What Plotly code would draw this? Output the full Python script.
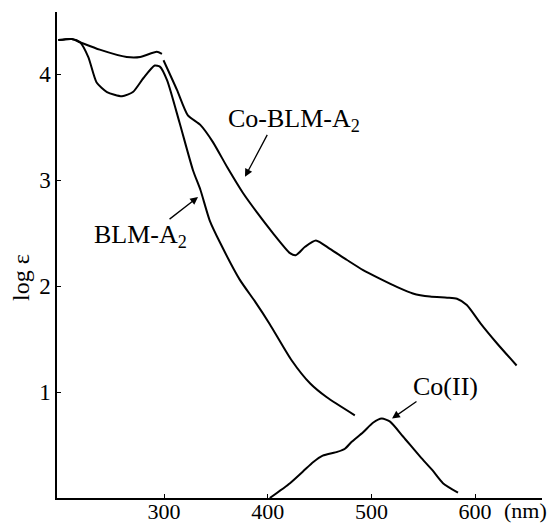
import plotly.graph_objects as go

# --- data (wavelength in nm, log epsilon) ---
blm_nm = [198, 211, 219, 227, 235, 245, 259.5, 270, 280, 291, 296, 303, 315, 328, 335, 344, 354, 373, 388, 402, 423, 441, 457, 484]
blm_log = [4.32, 4.33, 4.30, 4.16, 3.92, 3.83, 3.79, 3.83, 3.96, 4.08, 4.07, 3.94, 3.54, 3.09, 2.91, 2.62, 2.41, 2.06, 1.85, 1.64, 1.30, 1.08, 0.95, 0.78]

co_blm_nm = [198, 211, 219, 238, 264, 277, 293, 298, None, 299.5, 312.5, 323, 335, 347, 361, 376, 390, 405, 421.5, 427, 436, 446.5, 460, 476.5, 492, 508, 525, 540, 556.5, 573, 582.5, 592, 605, 621, 640]
co_blm_log = [4.32, 4.33, 4.30, 4.23, 4.16, 4.16, 4.21, 4.19, None, 4.13, 3.85, 3.61, 3.52, 3.36, 3.12, 2.88, 2.69, 2.50, 2.31, 2.29, 2.37, 2.43, 2.35, 2.245, 2.15, 2.07, 1.99, 1.93, 1.90, 1.89, 1.88, 1.82, 1.65, 1.46, 1.25]

co2_nm = [402, 421.5, 434, 444, 453, 467, 474.5, 481, 492, 501.5, 510, 518, 530.5, 547, 559, 569, 583.5]
co2_log = [0, 0.14, 0.25, 0.34, 0.40, 0.435, 0.465, 0.53, 0.62, 0.71, 0.75, 0.72, 0.58, 0.39, 0.26, 0.14, 0.05]

x_ticks = [300, 400, 500, 600]
x_tick_labels = ["300", "400", "500", "600"]
y_ticks = [1, 2, 3, 4]
y_tick_labels = ["1", "2", "3", "4"]

FONT = "Liberation Serif"
line_style = dict(color="black", width=2, shape="spline", smoothing=0.6)

fig = go.Figure()
fig.add_trace(go.Scatter(x=blm_nm, y=blm_log, mode="lines", line=line_style, showlegend=False))
fig.add_trace(go.Scatter(x=co_blm_nm, y=co_blm_log, mode="lines", line=line_style, showlegend=False, connectgaps=False))
fig.add_trace(go.Scatter(x=co2_nm, y=co2_log, mode="lines", line=line_style, showlegend=False))

# labels with arrows
labels = [
    ("Co-BLM-A<sub>2</sub>", 425, 3.57, 400.3, 3.44, 378.1, 3.03),
    ("BLM-A<sub>2</sub>", 277, 2.47, 303.9, 2.62, 332.8, 2.84),
    ("Co(II)", 571, 1.05, 544.9, 0.92, 519.9, 0.75),
]
for text, tx, ty, ax_, ay_, hx, hy in labels:
    fig.add_annotation(x=tx, y=ty, text=text, showarrow=False,
                       xanchor="center", yanchor="middle",
                       font=dict(family=FONT, size=26, color="black"))
    fig.add_annotation(x=hx, y=hy, ax=ax_, ay=ay_, axref="x", ayref="y",
                       text="", showarrow=True, arrowhead=2, arrowsize=1.2,
                       arrowwidth=1.3, arrowcolor="black")

fig.add_annotation(xref="paper", yref="paper", x=0.965, y=-0.026, text="(nm)",
                   xanchor="center", yanchor="middle",
                   showarrow=False, font=dict(family=FONT, size=22, color="black"))
fig.add_annotation(xref="paper", yref="paper", x=-0.074, y=0.453, text="log ε",
                   xanchor="center", yanchor="middle",
                   textangle=-90, showarrow=False,
                   font=dict(family=FONT, size=24, color="black"))

fig.update_layout(
    width=555, height=523,
    margin=dict(l=57, r=13, t=12, b=25),
    paper_bgcolor="white", plot_bgcolor="white",
    font=dict(family=FONT, size=22, color="black"),
)
fig.update_xaxes(range=[196.8, 664.5], showgrid=False, zeroline=False,
                 showline=True, linecolor="black", linewidth=1.5,
                 ticks="inside", ticklen=4, tickcolor="black",
                 tickvals=x_ticks, ticktext=x_tick_labels, automargin=False,
                 ticklabelstandoff=-7,
                 tickfont=dict(family=FONT, size=22, color="black"))
fig.update_yaxes(range=[0, 4.585], showgrid=False, zeroline=False,
                 showline=True, linecolor="black", linewidth=1.5,
                 ticks="inside", ticklen=4, tickcolor="black",
                 tickvals=y_ticks, ticktext=y_tick_labels, automargin=False,
                 tickfont=dict(family=FONT, size=23, color="black"))

fig.write_html("out.html", config={"displayModeBar": False},
               post_script="document.body.style.margin='0';document.body.style.overflow='hidden';")
